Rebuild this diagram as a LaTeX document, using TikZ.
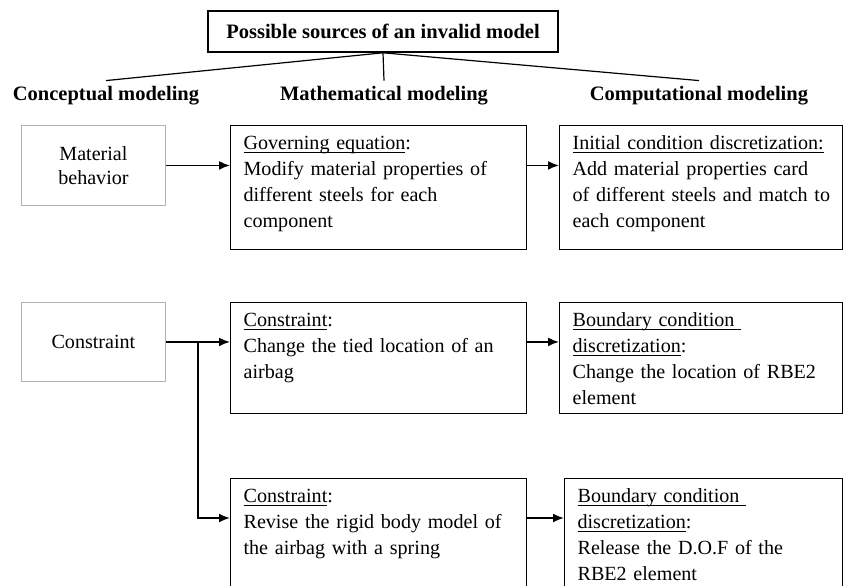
\documentclass[tikz,border=0pt]{standalone}
\usepackage{fontspec}
\setmainfont{Liberation Serif}
\usepackage{tikz}
\usetikzlibrary{positioning,arrows.meta,calc}
\newcommand{\ulhead}[1]{\leavevmode\setbox0\hbox{#1}\rlap{\rule[-3.5pt]{\wd0}{0.9pt}}\box0}
\tikzset{
txt/.style={
font=\fontsize{20.1}{26}\selectfont
},
head/.style={
anchor=base,
inner sep=5pt,
font=\fontsize{20.5}{26}\selectfont\bfseries
},
titlebox/.style={
draw,
line width=1.6pt,
minimum width=350pt,
minimum height=41pt,
font=\fontsize{20.5}{26}\selectfont\bfseries
},
plainbox/.style={
draw=gray!60,
line width=0.9pt,
anchor=north west,
align=center,
minimum width=144pt,
inner sep=0pt,
txt
},
cell/.style={
draw,
line width=1.2pt,
anchor=north west,
align=left,
text width=#1,
inner xsep=13pt,
inner ysep=5pt,
text height=19pt,
txt
},
arrow/.style={
-{Latex[length=11pt,width=9pt]},
line width=1.8pt
}
}

\begin{document}
\begin{tikzpicture}[x=1pt,y=-1pt]
\useasboundingbox (0,0) rectangle (843,586);

\node[titlebox](title) at (383,31.5){Possible sources of an invalid model};
\node[head](conc) at (106,100){Conceptual modeling};
\node[head](math) at (384,100){Mathematical modeling};
\node[head](comp) at (699,100){Computational modeling};

\foreach \h in {conc,math,comp}
\draw[line width=1.2pt](title.south)--(\h.north);

% material row
\node[plainbox,minimum height=80pt](mat) at (21,125){Material\\[-2pt]behavior};
\node[cell=270pt,text depth=95pt](gov) at (230,125){\ulhead{Governing equation}:\\
Modify material properties of\\
different steels for each\\
component};
\node[cell=257pt,text depth=95pt](ini) at (559,125){\ulhead{Initial condition discretization:}\\
Add material properties card\\
\mbox{of different steels and match to}\\
each component};

% constraint rows
\node[plainbox,minimum height=79pt](con) at (21,302){Constraint};
\node[cell=270pt,text depth=82pt](tie) at (230,302){\ulhead{Constraint}:\\
Change the tied location of an\\
airbag};
\node[cell=257pt,text depth=82pt](rbe) at (559,302){\ulhead{Boundary condition\ }\\
\ulhead{discretization}:\\
Change the location of RBE2\\
element};
\node[cell=270pt,text depth=101pt](rig) at (230,478){\ulhead{Constraint}:\\
Revise the rigid body model of\\
the airbag with a spring};
\node[cell=252pt,text depth=101pt](dof) at (564,478){\ulhead{Boundary condition\ }\\
\ulhead{discretization}:\\
Release the D.O.F of the\\
RBE2 element};

\coordinate (split) at ($(con.east)!0.5!(con.east -| tie.west)$);

\draw[arrow](mat.east)--(mat.east -| gov.west);
\draw[arrow](gov.east |- mat.east)--(ini.west |- mat.east);
\draw[arrow](con.east)--(con.east -| tie.west);
\draw[arrow](tie.east |- con.east)--(rbe.west |- con.east);
\draw[arrow](split)|-([yshift=-40pt]rig.north west);
\draw[arrow]([yshift=-40pt]rig.north east)--([yshift=-40pt]dof.north west);
\end{tikzpicture}
\end{document}
